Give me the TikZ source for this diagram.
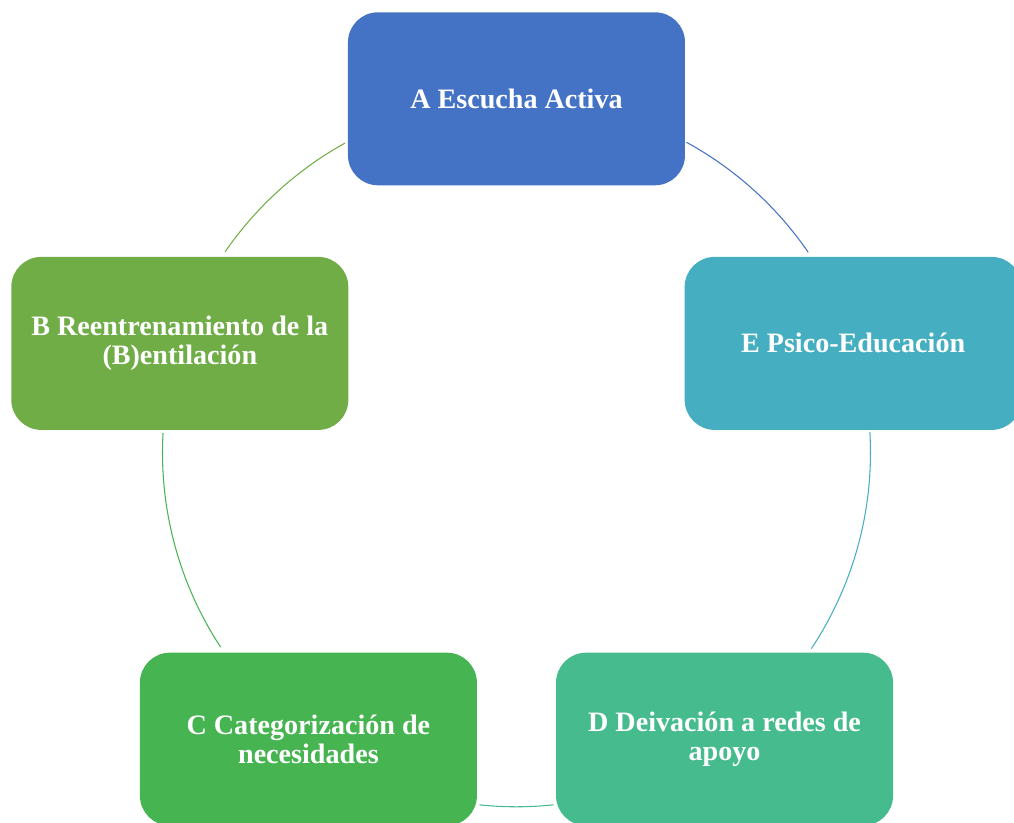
\documentclass[tikz,border=0pt]{standalone}
\usepackage{fontspec}
\setmainfont{Liberation Serif}
\usepackage{tikz}
\usetikzlibrary{calc}
\newcommand\rc{7.08}

\definecolor{colA}{HTML}{4472C4}
\definecolor{colE}{HTML}{45AFC1}
\definecolor{colD}{HTML}{46BB8E}
\definecolor{colC}{HTML}{47B452}
\definecolor{colB}{HTML}{70AD47}

\tikzset{
  stage/.style={rectangle, rounded corners=0.6cm, minimum width=6.74cm,
    minimum height=3.46cm, align=center, text=white,
    font=\fontsize{16}{16.5}\selectfont\bfseries},
  link/.style={line width=0.6pt}
}

\begin{document}
\begin{tikzpicture}

\useasboundingbox (-10.33,-7.404) rectangle (9.95,9.056);

\coordinate (O) at (0,0);

\node[stage, fill=colA] (A) at (90:\rc)  {A Escucha Activa};
\node[stage, fill=colE] (E) at (18:\rc)  {E Psico-Educación};
\node[stage, fill=colD] (D) at (-54:\rc) {D Deivación a redes de\\apoyo};
\node[stage, fill=colC] (C) at (-126:\rc) {C Categorización de\\necesidades};
\node[stage, fill=colB] (B) at (162:\rc) {B Reentrenamiento de la\\(B)entilación};

% arcs of the cycle
\foreach \col/\s/\e in {colA/61.3/34.5, colE/3.4/-33.6, colD/-84/-96,
                        colC/213.3/176.8, colB/145.4/119}
  \draw[link, \col] ($(O)+(\s:\rc)$) arc (\s:\e:\rc);

\end{tikzpicture}
\end{document}
